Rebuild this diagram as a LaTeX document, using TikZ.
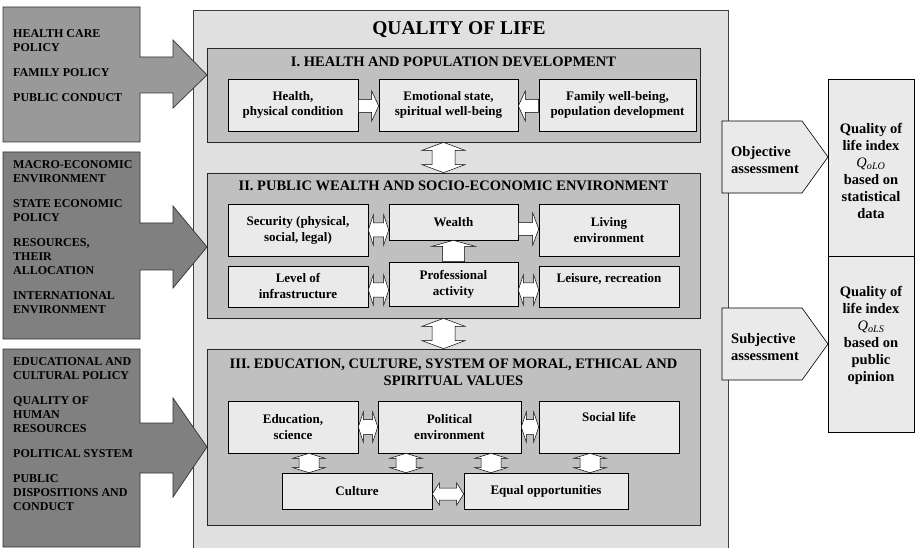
\documentclass[tikz,border=0pt]{standalone}
\usepackage{fontspec}
\setmainfont{Liberation Serif}
\usetikzlibrary{calc}
\definecolor{mainbg}{HTML}{E0E0E0}
\definecolor{secbg}{HTML}{C0C0C0}
\definecolor{inbg}{HTML}{EAEAEA}
\definecolor{lboxa}{HTML}{999999}
\definecolor{lboxb}{HTML}{808080}
\newcommand\qlArrR[6]{\path[blk] let \p1=(#1), \p2=(#2), \p3=(#3) in (\x1,\y3+#4pt) -- (\x2-#6pt,\y3+#4pt) -- (\x2-#6pt,\y3+#5pt) -- (\x2,\y3) -- (\x2-#6pt,\y3-#5pt) -- (\x2-#6pt,\y3-#4pt) -- (\x1,\y3-#4pt) -- cycle;}
\newcommand\qlArrL[6]{\path[blk] let \p1=(#1), \p2=(#2), \p3=(#3) in (\x1,\y3+#4pt) -- (\x2+#6pt,\y3+#4pt) -- (\x2+#6pt,\y3+#5pt) -- (\x2,\y3) -- (\x2+#6pt,\y3-#5pt) -- (\x2+#6pt,\y3-#4pt) -- (\x1,\y3-#4pt) -- cycle;}
\newcommand\qlArrH[6]{\path[blk] let \p1=(#1), \p2=(#2), \p3=(#3) in (\x1,\y3) -- (\x1+#6pt,\y3+#5pt) -- (\x1+#6pt,\y3+#4pt) -- (\x2-#6pt,\y3+#4pt) -- (\x2-#6pt,\y3+#5pt) -- (\x2,\y3) -- (\x2-#6pt,\y3-#5pt) -- (\x2-#6pt,\y3-#4pt) -- (\x1+#6pt,\y3-#4pt) -- (\x1+#6pt,\y3-#5pt) -- cycle;}
\newcommand\qlArrV[6]{\path[blk] let \p1=(#1), \p2=(#2), \p3=(#3) in (\x3,\y1) -- (\x3+#5pt,\y1-#6pt) -- (\x3+#4pt,\y1-#6pt) -- (\x3+#4pt,\y2+#6pt) -- (\x3+#5pt,\y2+#6pt) -- (\x3,\y2) -- (\x3-#5pt,\y2+#6pt) -- (\x3-#4pt,\y2+#6pt) -- (\x3-#4pt,\y1-#6pt) -- (\x3-#5pt,\y1-#6pt) -- cycle;}
\newcommand\qlArrU[6]{\path[blk] let \p1=(#1), \p2=(#2), \p3=(#3) in (\x3-#4pt,\y1) -- (\x3-#4pt,\y2-#6pt) -- (\x3-#5pt,\y2-#6pt) -- (\x3,\y2) -- (\x3+#5pt,\y2-#6pt) -- (\x3+#4pt,\y2-#6pt) -- (\x3+#4pt,\y1) -- cycle;}
\begin{document}
\begin{tikzpicture}[x=1pt,y=-1pt,
  ibox/.style={draw=black, line width=0.6pt, fill=inbg, inner sep=0pt, align=center,
    font=\fontsize{13}{16}\selectfont\bfseries},
  iboxa/.style={ibox, font=\fontsize{13}{15}\selectfont\bfseries},
  secbox/.style={draw=black!85, line width=0.7pt, fill=secbg, inner sep=0pt},
  blk/.style={draw=black, fill=white, line width=0.5pt},
  lshape/.style={draw=black!80, line width=0.7pt},
  lefttext/.style={anchor=north west, inner sep=0pt, align=left,
    font=\fontsize{12}{14}\selectfont\bfseries},
  sectitle/.style={inner sep=0pt, align=center, font=\fontsize{14.5}{17}\selectfont\bfseries},
  rtext/.style={inner sep=0pt, align=center, font=\fontsize{14.5}{17}\selectfont\bfseries},
  ptext/.style={inner sep=0pt, align=left, anchor=west, font=\fontsize{14.5}{17}\selectfont\bfseries},
  pent/.style={draw=black, fill=inbg, line width=0.6pt},
  ixbox/.style={draw=black, fill=inbg, line width=0.7pt, inner sep=0pt}]
\useasboundingbox (0,0) rectangle (916,548);
\fill[white] (0,0) rectangle (916,548);
% main box
\fill[mainbg] (193,10) rectangle (728,548);
\draw[black!75, line width=0.7pt] (193,548) -- (193,10) -- (728,10) -- (728,548);
\node[inner sep=0pt, anchor=base, font=\fontsize{19.5}{21}\selectfont\bfseries] (title) at (459,34.5) {QUALITY OF LIFE};
% sections
\node[secbox, minimum width=493, minimum height=94] (sI) at (453.5,95) {};
\node[secbox, minimum width=493, minimum height=145] (sII) at (453.5,245.5) {};
\node[secbox, minimum width=493, minimum height=176] (sIII) at (453.5,437) {};
\node[sectitle, anchor=base] (tI) at (453.5,67) {I. HEALTH AND POPULATION DEVELOPMENT};
\node[sectitle, anchor=base] (tII) at (453.5,191) {II. PUBLIC WEALTH AND SOCIO-ECONOMIC ENVIRONMENT};
\node[sectitle, anchor=north] (tIII) at (453.5,358.5) {III. EDUCATION, CULTURE, SYSTEM OF MORAL, ETHICAL AND\\SPIRITUAL VALUES};
% section I boxes
\node[iboxa, minimum width=130, minimum height=52] (hea) at (293,105) {Health,\\physical condition};
\node[iboxa, minimum width=139, minimum height=52] (emo) at (448.5,105) {Emotional state,\\spiritual well-being};
\node[iboxa, minimum width=157, minimum height=52] (fam) at (617.5,105) {Family well-being,\\population development};
% section II boxes
\node[ibox, minimum width=140, minimum height=52] (sec) at (298,230) {Security (physical,\\social, legal)};
\node[ibox, minimum width=129, minimum height=36] (wea) at (453.5,222) {Wealth};
\node[ibox, minimum width=140, minimum height=52] (liv) at (609,230) {Living\\environment};
\node[ibox, minimum width=140, minimum height=41] (lev) at (298,286.5) {Level of\\infrastructure};
\node[ibox, minimum width=129, minimum height=44] (pro) at (453.5,284) {Professional\\activity};
\node[ibox, minimum width=140, minimum height=41] (lei) at (609,286.5) {Leisure, recreation\\[-4pt]\strut};
% section III boxes
\node[ibox, minimum width=130, minimum height=52] (edu) at (293,427) {Education,\\science};
\node[ibox, minimum width=143, minimum height=52] (pol) at (449.5,427) {Political\\environment};
\node[ibox, minimum width=140, minimum height=52] (soc) at (609,427) {Social life\\\strut};
\node[ibox, minimum width=150, minimum height=36] (cul) at (357,491) {Culture};
\node[ibox, minimum width=164, minimum height=36] (eq) at (546,491) {Equal opportunities};
% arrows section I
\qlArrR{hea.east}{emo.west}{0,106}{6.5}{15}{7}
\qlArrL{fam.west}{emo.east}{0,106}{6.5}{15}{7}
% arrows between sections
\qlArrV{sI.south}{sII.north}{443.5,0}{11.5}{21.5}{8}
\qlArrV{sII.south}{sIII.north}{443.5,0}{11.5}{21.5}{8}
% arrows section II
\qlArrH{sec.east}{wea.west}{sec.center}{7}{15}{5}
\qlArrR{wea.east}{liv.west}{0,229}{6.5}{16}{6}
\qlArrU{pro.north}{wea.south}{pro.center}{11}{21.5}{6}
\qlArrH{lev.east}{pro.west}{0,290}{7}{15}{5}
\qlArrH{pro.east}{lei.west}{0,290}{7}{15}{5}
% arrows section III
\qlArrH{edu.east}{pol.west}{edu.center}{7.5}{15}{5}
\qlArrH{pol.east}{soc.west}{pol.center}{7.5}{15}{5}
\qlArrV{edu.south}{cul.north}{309,0}{10}{16}{5}
\qlArrV{pol.south}{cul.north}{406,0}{10}{16}{5}
\qlArrV{pol.south}{eq.north}{491,0}{10}{16}{5}
\qlArrV{soc.south}{eq.north}{590,0}{10}{16}{5}
\qlArrH{cul.east}{eq.west}{0,494}{6}{11}{7}
% left factor boxes with arrows
\draw[lshape, fill=lboxa] (3,7) -- (140,7) -- (140,57) -- (173,57) -- (173,40) -- (207,75) -- (173,108) -- (173,93) -- (140,93) -- (140,142) -- (3,142) -- cycle;
\draw[lshape, fill=lboxb] (3,152) -- (140,152) -- (140,223) -- (173,223) -- (173,206) -- (207,247) -- (173,288) -- (173,270) -- (140,270) -- (140,339) -- (3,339) -- cycle;
\draw[lshape, fill=lboxb] (3,349) -- (140,349) -- (140,423) -- (173,423) -- (173,398) -- (207,447) -- (173,497) -- (173,473) -- (140,473) -- (140,547) -- (3,547) -- cycle;
\node[lefttext] (ta) at (13,29) {HEALTH CARE\\POLICY\\[11pt]FAMILY POLICY\\[11pt]PUBLIC CONDUCT};
\node[lefttext] (tb) at (13,160) {MACRO-ECONOMIC\\ENVIRONMENT\\[11pt]STATE ECONOMIC\\POLICY\\[11pt]RESOURCES,\\THEIR\\ALLOCATION\\[11pt]INTERNATIONAL\\ENVIRONMENT};
\node[lefttext] (tc) at (13,357) {EDUCATIONAL AND\\CULTURAL POLICY\\[11pt]QUALITY OF\\HUMAN\\RESOURCES\\[11pt]POLITICAL SYSTEM\\[11pt]PUBLIC\\DISPOSITIONS AND\\CONDUCT};
% right side
\draw[pent] (722,121) -- (802,121) -- (828,157) -- (802,193) -- (722,193) -- cycle;
\draw[pent] (722,308) -- (802,308) -- (828,344) -- (802,380) -- (722,380) -- cycle;
\node[ptext] (obj) at (731,160) {Objective\\assessment};
\node[ptext] (sub) at (731,347) {Subjective\\assessment};
\node[ixbox, minimum width=86, minimum height=177] (ixa) at (871,167.5) {};
\node[ixbox, minimum width=86, minimum height=176] (ixb) at (871,344) {};
\node[rtext] (ixat) at (871,171) {Quality of\\life index\\{\mdseries\itshape Q\textsubscript{oLO}}\\based on\\statistical\\data};
\node[rtext] (ixbt) at (871,335) {Quality of\\life index\\{\mdseries\itshape Q\textsubscript{oLS}}\\based on\\public\\opinion};
\end{tikzpicture}
\end{document}
